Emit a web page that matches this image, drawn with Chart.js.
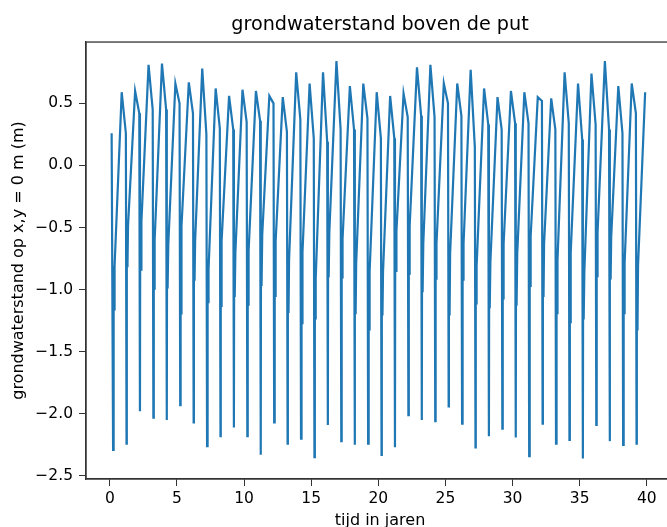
<!DOCTYPE html>
<html>
<head>
<meta charset="utf-8">
<script src="https://cdn.jsdelivr.net/npm/chart.js@4/dist/chart.umd.min.js"></script>
<style>
  html, body { margin: 0; padding: 0; background: #fff; }
  #wrap { width: 667px; height: 527px; overflow: hidden; }
  canvas { display: block; }
</style>
</head>
<body>
<div id="wrap"><canvas id="chart" width="760" height="540"></canvas></div>
<script>
// one cycle per year: sharp drop, noisy low part, rise to peak, slow decline
const startPoint = [0.13, 0.26];
// years inside a cycle: trough, low band zigzag, peak, notch
const cycleTimes = [0.24, 0.26, 0.28, 0.30, 0.32, 0.35, 0.88, 1.19];

const troughs = [-2.29, -2.24, -1.98, -2.03, -2.05, -1.93, -2.07, -2.26, -2.18, -2.11,
                 -2.18, -2.33, -2.07, -2.24, -2.20, -2.35, -2.09, -2.22, -2.25, -2.24,
                 -2.33, -2.27, -2.01, -2.05, -2.06, -1.94, -2.08, -2.27, -2.18, -2.12,
                 -2.19, -2.34, -2.08, -2.24, -2.21, -2.36, -2.09, -2.22, -2.25, -2.24];
const lowTop = [-0.81, -0.49, -0.45, -0.60, -0.64, -0.49, -0.61, -0.84, -0.61, -0.70,
                -0.69, -0.56, -0.61, -0.76, -0.70, -0.91, -0.54, -0.59, -0.79, -0.86,
                -0.86, -0.53, -0.49, -0.63, -0.63, -0.71, -0.63, -0.81, -0.78, -0.63,
                -0.71, -0.57, -0.63, -0.76, -0.70, -0.86, -0.54, -0.58, -0.79, -0.81];
const lowBottom = [-1.16, -0.81, -0.84, -1.00, -0.99, -1.20, -0.92, -1.10, -1.13, -1.06,
                   -1.13, -0.97, -1.05, -1.18, -1.27, -1.24, -0.90, -0.91, -1.19, -1.32,
                   -1.20, -0.85, -0.88, -1.02, -0.92, -1.20, -0.92, -1.11, -1.15, -1.08,
                   -1.13, -0.97, -1.05, -1.19, -1.27, -1.24, -0.90, -0.91, -1.19, -1.32];
const peaks = [0.59, 0.60, 0.81, 0.82, 0.66, 0.67, 0.78, 0.62, 0.56, 0.61,
               0.60, 0.56, 0.55, 0.75, 0.66, 0.75, 0.84, 0.64, 0.66, 0.59,
               0.56, 0.58, 0.79, 0.81, 0.66, 0.66, 0.77, 0.62, 0.55, 0.60,
               0.59, 0.55, 0.54, 0.75, 0.66, 0.74, 0.84, 0.64, 0.66, 0.59];
const notches = [0.26, 0.42, 0.45, 0.45, 0.50, 0.42, 0.25, 0.30, 0.29, 0.35,
                 0.36, 0.50, 0.27, 0.37, 0.22, 0.19, 0.29, 0.29, 0.38, 0.22,
                 0.22, 0.39, 0.40, 0.39, 0.50, 0.40, 0.15, 0.33, 0.29, 0.34,
                 0.34, 0.52, 0.29, 0.34, 0.21, 0.33, 0.29, 0.26, 0.42];

const xTicks = [0, 5, 10, 15, 20, 25, 30, 35, 40];
const yTicks = [-2.5, -2.0, -1.5, -1.0, -0.5, 0.0, 0.5];

const points = [{x: startPoint[0], y: startPoint[1]}];
peaks.forEach((peak, k) => {
    const vals = [troughs[k], lowTop[k], lowBottom[k], lowTop[k], lowBottom[k], lowTop[k], peak];
    vals.forEach((v, i) => points.push({x: k + cycleTimes[i], y: v}));
    if (k < notches.length) points.push({x: k + cycleTimes[7], y: notches[k]});
});

const tickFont = {family: 'DejaVu Sans', size: 15.5};
const labelFont = {family: 'DejaVu Sans', size: 16, lineHeight: 1.2};

const spines = {
    id: 'spines',
    afterDatasetsDraw(chart) {
        const {ctx, chartArea: a} = chart;
        ctx.save();
        ctx.strokeStyle = '#333';
        ctx.lineWidth = 1.3;
        ctx.strokeRect(a.left, a.top, a.right - a.left, a.bottom - a.top);
        ctx.restore();
    }
};

new Chart(document.getElementById('chart'), {
    type: 'line',
    data: {
        datasets: [{
            data: points,
            borderColor: '#1f77b4',
            borderWidth: 2.2,
            pointRadius: 0,
            tension: 0,
            fill: false,
        }],
    },
    options: {
        responsive: false,
        animation: false,
        events: [],
        layout: {padding: {left: 0, right: 86, top: 0, bottom: 0}},
        plugins: {
            legend: {display: false},
            tooltip: {enabled: false},
            title: {
                display: true,
                fullSize: false,
                text: 'grondwaterstand boven de put',
                color: '#000',
                font: {family: 'DejaVu Sans', size: 19.2, weight: 'normal', lineHeight: 1.2},
                padding: {top: 13.5, bottom: 5.5},
            },
        },
        scales: {
            x: {
                type: 'linear',
                min: -1.78,
                max: 42.03,
                afterBuildTicks: s => { s.ticks = xTicks.map(v => ({value: v})); },
                afterFit: s => { s.height = 61; },
                ticks: {color: '#000', font: tickFont, padding: 4, maxRotation: 0, autoSkip: false,
                        callback: v => String(v)},
                grid: {drawOnChartArea: false, drawTicks: true, tickLength: 7, tickColor: '#333', tickWidth: 1},
                border: {display: true, color: '#333', width: 1.3},
                title: {display: true, text: 'tijd in jaren', color: '#000', font: labelFont,
                        padding: {top: 0, bottom: 9.5}},
            },
            y: {
                type: 'linear',
                min: -2.525,
                max: 0.994,
                afterBuildTicks: s => { s.ticks = yTicks.map(v => ({value: v})); },
                afterFit: s => { s.width = 86; },
                ticks: {color: '#000', font: tickFont, padding: 6, autoSkip: false,
                        callback: v => (v < 0 ? '\u2212' : '') + Math.abs(v).toFixed(1)},
                grid: {drawOnChartArea: false, drawTicks: true, tickLength: 7, tickColor: '#333', tickWidth: 1},
                border: {display: true, color: '#333', width: 1.3},
                title: {display: true, text: 'grondwaterstand op x,y = 0 m (m)', color: '#000', font: labelFont,
                        padding: {top: 9, bottom: 0}},
            },
        },
    },
    plugins: [spines],
});
</script>
</body>
</html>
